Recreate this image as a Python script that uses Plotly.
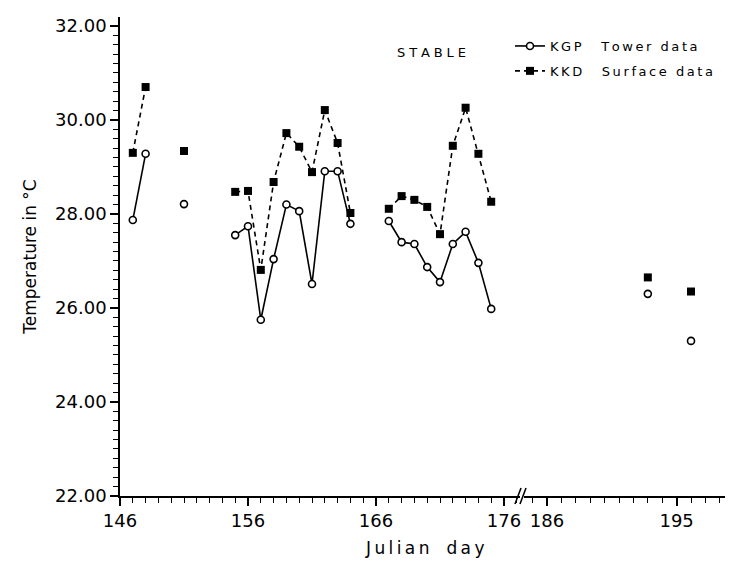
import plotly.graph_objects as go

# ---- data ----
days = [147, 148, 151, 155, 156, 157, 158, 159, 160, 161, 162, 163, 164,
        167, 168, 169, 170, 171, 172, 173, 174, 175, 193, 196]
kgp_tower = [27.87, 29.28, 28.21, 27.55, 27.74, 25.75, 27.04, 28.20, 28.06, 26.51, 28.91, 28.91, 27.79,
             27.85, 27.40, 27.36, 26.87, 26.55, 27.36, 27.62, 26.96, 25.98, 26.30, 25.30]
kkd_surface = [29.30, 30.70, 29.34, 28.47, 28.49, 26.81, 28.68, 29.72, 29.43, 28.89, 30.21, 29.51, 28.02,
               28.11, 28.38, 28.30, 28.15, 27.57, 29.45, 30.26, 29.28, 28.26, 26.65, 26.35]
left_ticks = [146, 156, 166, 176]
right_ticks = [186, 195]
y_ticks = [22, 24, 26, 28, 30, 32]

BREAK_DAY = 180  # days before it go on the left segment of the broken axis


def with_gaps(xs, ys):
    ox, oy = [], []
    for i, (x, y) in enumerate(zip(xs, ys)):
        if i > 0 and x - xs[i - 1] > 1:
            ox.append(None)
            oy.append(None)
        ox.append(x)
        oy.append(y)
    return ox, oy


def split(xs, ys):
    left = [(x, y) for x, y in zip(xs, ys) if x < BREAK_DAY]
    right = [(x, y) for x, y in zip(xs, ys) if x >= BREAK_DAY]
    lx, ly = with_gaps([p[0] for p in left], [p[1] for p in left])
    rx, ry = with_gaps([p[0] for p in right], [p[1] for p in right])
    return (lx, ly), (rx, ry)


def spaced(s, sep="\u2009"):
    return sep.join(s)


FONT = "DejaVu Sans"
fig = go.Figure()

(kl, kr) = split(days, kkd_surface)
(gl, gr) = split(days, kgp_tower)

kkd_style = dict(mode="lines+markers",
                 line=dict(color="black", width=1.6, dash="5px,4px"),
                 marker=dict(symbol="square", size=8, color="black"))
kgp_style = dict(mode="lines+markers",
                 line=dict(color="black", width=1.6),
                 marker=dict(symbol="circle", size=7, color="white",
                             line=dict(color="black", width=1.6)))

WORD = "\u2002\u2009"
fig.add_trace(go.Scatter(x=gl[0], y=gl[1],
                         name=spaced("KGP") + "\u2003\u2002" + spaced("Tower") + WORD + spaced("data"),
                         legendgroup="a", legendrank=1, xaxis="x", yaxis="y", **kgp_style))
fig.add_trace(go.Scatter(x=kl[0], y=kl[1],
                         name=spaced("KKD") + "\u2003\u2002" + spaced("Surface") + WORD + spaced("data"),
                         legendgroup="b", legendrank=2, xaxis="x", yaxis="y", **kkd_style))
fig.add_trace(go.Scatter(x=gr[0], y=gr[1], showlegend=False, legendgroup="a",
                         xaxis="x2", yaxis="y", **kgp_style))
fig.add_trace(go.Scatter(x=kr[0], y=kr[1], showlegend=False, legendgroup="b",
                         xaxis="x2", yaxis="y", **kkd_style))

# layout geometry (pixels)
W, H = 737, 575
ML, MR, MT, MB = 120, 12, 17, 79
PW = W - ML - MR
PH = H - MT - MB
brk_px = 520
right_start_px = 524


def px_to_paper_x(px):
    return (px - ML) / PW


def px_to_paper_y(py):
    return (H - MB - py) / PH


tickfont = dict(family=FONT, size=18, color="black")
axis_common = dict(showline=True, linecolor="black", linewidth=1.6, ticks="outside",
                   ticklen=8, tickwidth=1.6, tickcolor="black", showgrid=False,
                   zeroline=False, tickfont=tickfont,
                   minor=dict(ticks="outside", ticklen=5, tickwidth=1.3, tickcolor="black", dtick=1))

fig.update_layout(
    width=W, height=H,
    margin=dict(l=ML, r=MR, t=MT, b=MB),
    paper_bgcolor="white", plot_bgcolor="white",
    font=dict(family=FONT, color="black"),
    xaxis=dict(domain=[0, px_to_paper_x(brk_px)], range=[146, 146 + (brk_px - ML) / 12.8],
               tickvals=left_ticks, anchor="y", **axis_common),
    xaxis2=dict(domain=[px_to_paper_x(right_start_px), 1], range=[184.4, 198.36],
                tickvals=right_ticks, anchor="y", **axis_common),
    yaxis=dict(range=[22, 32.19], tickvals=y_ticks, tickformat=".2f",
               showline=True, linecolor="black", linewidth=1.6, ticks="outside",
               ticklen=8, tickwidth=1.6, tickcolor="black", showgrid=False, zeroline=False,
               tickfont=dict(family=FONT, size=18, color="black"),
               minor=dict(ticks="outside", ticklen=5, tickwidth=1.3, tickcolor="black", dtick=0.2),
               title=dict(text="Temperature in °C", font=dict(family=FONT, size=17), standoff=14)),
    legend=dict(x=px_to_paper_x(510), y=px_to_paper_y(31), xanchor="left", yanchor="top",
                bgcolor="rgba(0,0,0,0)", font=dict(family=FONT, size=13),
                tracegroupgap=5, itemwidth=30),
    showlegend=True,
    annotations=[
        dict(text=spaced("STABLE", "\u2009\u200a"), xref="paper", yref="paper",
             x=px_to_paper_x(431), y=px_to_paper_y(43), showarrow=False,
             font=dict(family=FONT, size=13, color="black")),
        dict(text=spaced("Julian") + "\u2003" + spaced("day"), xref="paper", yref="paper",
             x=px_to_paper_x(424), y=px_to_paper_y(560), showarrow=False,
             font=dict(family=FONT, size=17, color="black")),
    ],
    shapes=[
        dict(type="line", xref="paper", yref="paper",
             x0=px_to_paper_x(515), y0=px_to_paper_y(504), x1=px_to_paper_x(521), y1=px_to_paper_y(488),
             line=dict(color="black", width=1.6)),
        dict(type="line", xref="paper", yref="paper",
             x0=px_to_paper_x(520), y0=px_to_paper_y(504), x1=px_to_paper_x(526), y1=px_to_paper_y(488),
             line=dict(color="black", width=1.6)),
    ],
)

fig.write_html("out.html")
